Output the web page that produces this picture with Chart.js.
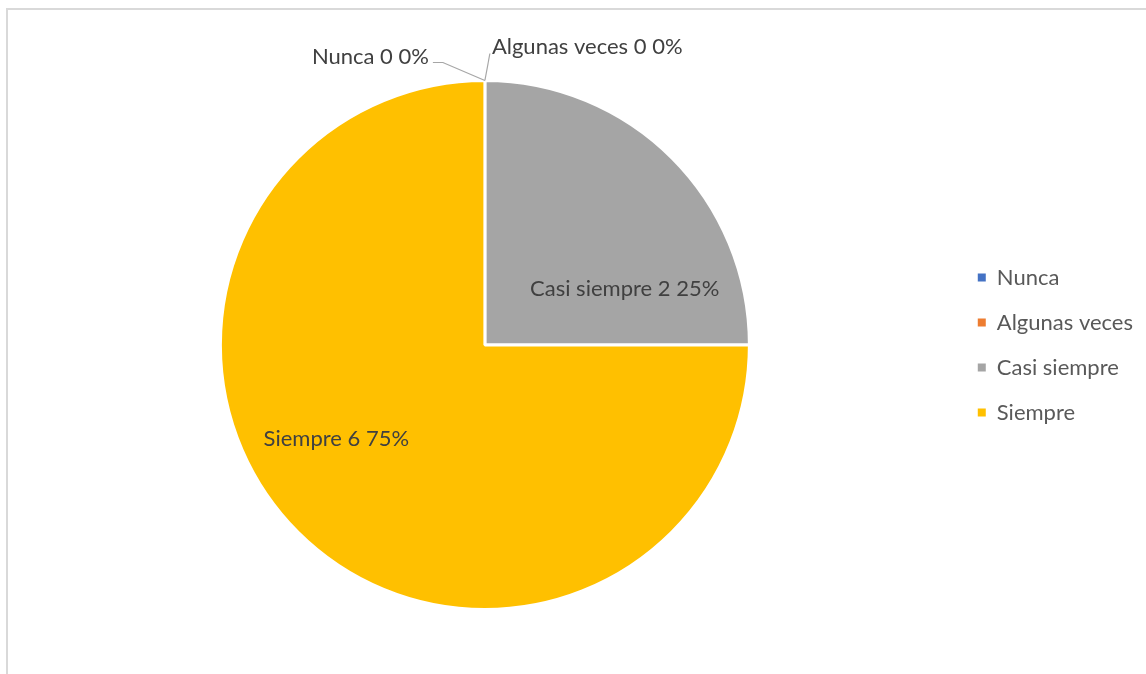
<!DOCTYPE html>
<html>
<head>
<meta charset="utf-8">
<script src="https://cdn.jsdelivr.net/npm/chart.js@4.4.0/dist/chart.umd.min.js"></script>
<style>
  html, body { margin: 0; padding: 0; background: #fff; overflow: hidden; }
  #frame { position: absolute; left: 6px; top: 8px; width: 1200px; height: 720px; border: 2px solid #d9d9d9; box-sizing: border-box; }
  #wrap { position: absolute; left: 0; top: 0; width: 1146px; height: 674px; }
</style>
</head>
<body>
<div id="frame"></div>
<div id="wrap"><canvas id="pieChart"></canvas></div>
<script>
const categories = ['Nunca', 'Algunas veces', 'Casi siempre', 'Siempre'];
const counts = [0, 0, 2, 6];
const percents = [0, 0, 25, 75];

const sliceColors = ['#4472C4', '#ED7D31', '#A5A5A5', '#FFC000'];
const FONT = "Lato, 'Open Sans', sans-serif";

// where each data label sits: inside labels use polar offsets from the slice,
// empty slices get a callout with a leader line from the arc edge
const labelStyle = [
  { callout: true, align: 'right', dx: -56, dy: -17, leader: [[-42, -18], [-52, -18]] },
  { callout: true, align: 'left', dx: 7, dy: -27, leader: [[5, -27]] },
  { angleShift: 23, radius: 0.57 },
  { angleShift: 12.6, radius: 0.665 }
];

const dataLabels = {
  id: 'dataLabels',
  afterDatasetsDraw(chart) {
    const ctx = chart.ctx;
    const meta = chart.getDatasetMeta(0);
    ctx.save();
    ctx.font = `22px ${FONT}`;
    ctx.fillStyle = '#404040';
    ctx.textBaseline = 'alphabetic';
    meta.data.forEach((arc, i) => {
      const p = arc.getProps(['x', 'y', 'startAngle', 'endAngle', 'outerRadius'], true);
      const text = `${categories[i]} ${counts[i]} ${percents[i]}%`;
      const st = labelStyle[i];
      if (st.callout) {
        const ax = p.x + p.outerRadius * Math.cos(p.startAngle);
        const ay = p.y + p.outerRadius * Math.sin(p.startAngle);
        ctx.beginPath();
        ctx.strokeStyle = '#a6a6a6';
        ctx.lineWidth = 1.2;
        ctx.moveTo(ax, ay);
        st.leader.forEach(([lx, ly]) => ctx.lineTo(ax + lx, ay + ly));
        ctx.stroke();
        ctx.textAlign = st.align;
        ctx.fillText(text, ax + st.dx, ay + st.dy);
      } else {
        const mid = (p.startAngle + p.endAngle) / 2 + st.angleShift * Math.PI / 180;
        const r = p.outerRadius * st.radius;
        ctx.textAlign = 'center';
        ctx.textBaseline = 'middle';
        ctx.fillText(text, p.x + r * Math.cos(mid), p.y + r * Math.sin(mid));
        ctx.textBaseline = 'alphabetic';
      }
    });
    ctx.restore();
  }
};

new Chart(document.getElementById('pieChart'), {
  type: 'pie',
  data: {
    labels: categories,
    datasets: [{
      data: counts,
      backgroundColor: sliceColors,
      borderColor: '#ffffff',
      borderWidth: 3
    }]
  },
  options: {
    responsive: true,
    maintainAspectRatio: false,
    animation: false,
    layout: { padding: { left: 15, right: 3, top: 79, bottom: 63 } },
    plugins: {
      legend: {
        position: 'right',
        labels: {
          boxWidth: 8,
          boxHeight: 8,
          padding: 23,
          color: '#595959',
          font: { family: FONT, size: 22 },
          generateLabels(chart) {
            const items = Chart.overrides.pie.plugins.legend.labels.generateLabels(chart);
            items.forEach(it => { it.lineWidth = 0; });
            return items;
          }
        }
      },
      tooltip: { enabled: false }
    }
  },
  plugins: [dataLabels]
});
</script>
</body>
</html>
